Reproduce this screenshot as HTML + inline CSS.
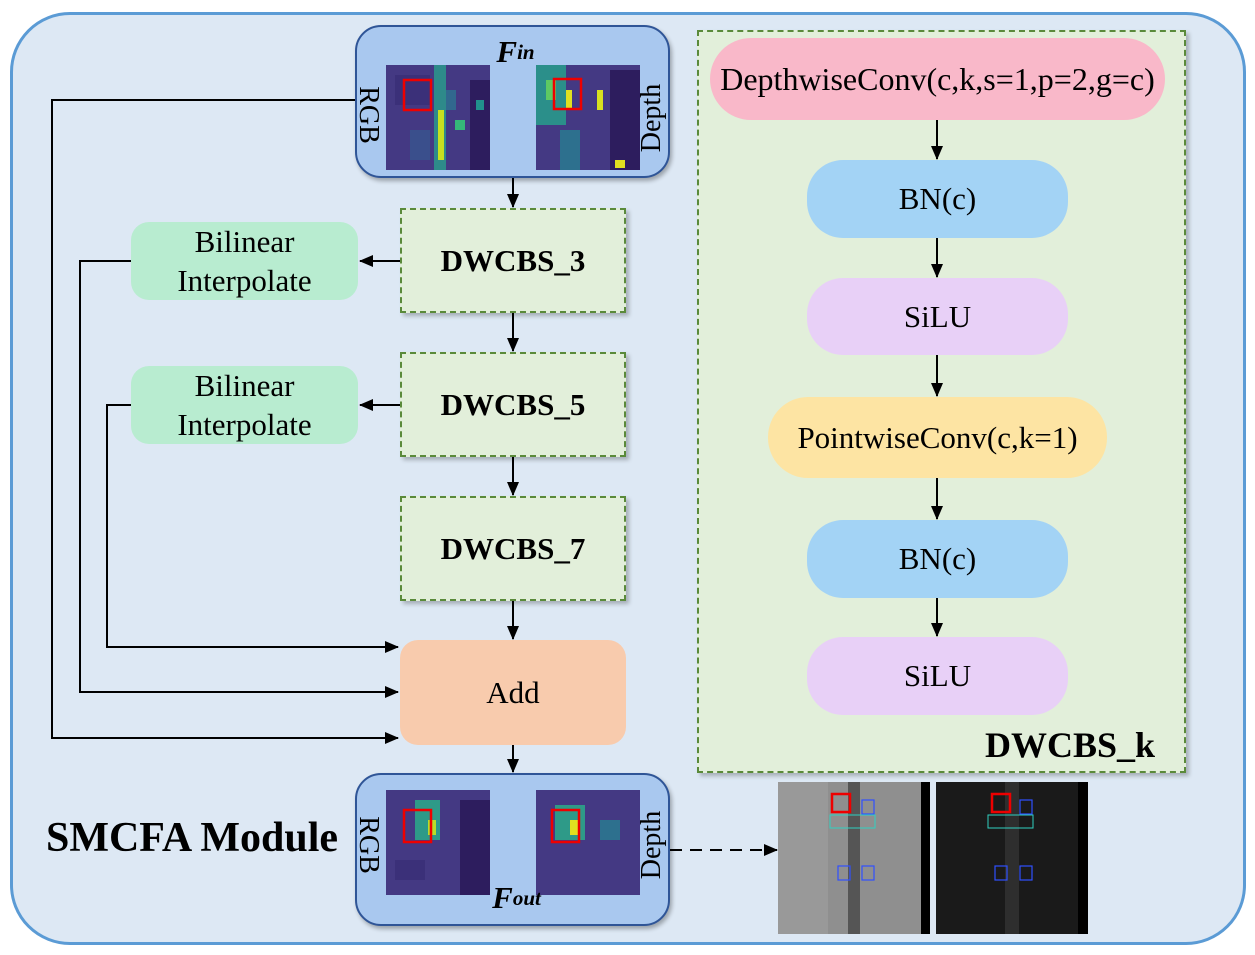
<!DOCTYPE html>
<html><head><meta charset="utf-8"><style>
body{margin:0;width:1255px;height:955px;background:#fff;font-family:"Liberation Serif",serif;position:relative;overflow:hidden}
.a{position:absolute;box-sizing:border-box;display:flex;align-items:center;justify-content:center;text-align:center;white-space:nowrap}
.dw{background:#e2efda;border:2px dashed #5a8a3a;font-weight:bold;font-size:31px;box-shadow:3px 3px 4px rgba(0,0,0,.25)}
.bi{background:#b8ecd0;border-radius:18px;font-size:31px;line-height:39px}
.r{border-radius:36px;font-size:31px}
sub{vertical-align:-8px}
</style></head><body>
<div class="a" style="left:10px;top:12px;width:1236px;height:933px;background:#dde8f4;border:3px solid #5b9bd5;border-radius:60px"></div>
<div class="a" style="left:697px;top:30px;width:489px;height:743px;background:#e2efda;border:2px dashed #5a8a3a;box-shadow:3px 3px 4px rgba(0,0,0,.25)"></div>

<svg class="a" style="left:0;top:0" width="1255" height="955">
<defs><marker id="m" markerWidth="14" markerHeight="12" refX="13" refY="6" orient="auto" markerUnits="userSpaceOnUse"><path d="M0,0 L14,6 L0,12z" fill="#000"/></marker></defs>
<g stroke="#000" stroke-width="2" fill="none">
<polyline points="355,100 52,100 52,738 398,738" marker-end="url(#m)"/>
<polyline points="131,261 80,261 80,692 398,692" marker-end="url(#m)"/>
<polyline points="131,405 107,405 107,647 398,647" marker-end="url(#m)"/>
<line x1="400" y1="261" x2="360" y2="261" marker-end="url(#m)"/>
<line x1="400" y1="405" x2="360" y2="405" marker-end="url(#m)"/>
<line x1="513" y1="178" x2="513" y2="207" marker-end="url(#m)"/>
<line x1="513" y1="313" x2="513" y2="351" marker-end="url(#m)"/>
<line x1="513" y1="457" x2="513" y2="495" marker-end="url(#m)"/>
<line x1="513" y1="601" x2="513" y2="639" marker-end="url(#m)"/>
<line x1="513" y1="745" x2="513" y2="772" marker-end="url(#m)"/>
<line x1="937" y1="120" x2="937" y2="159" marker-end="url(#m)"/>
<line x1="937" y1="238" x2="937" y2="277" marker-end="url(#m)"/>
<line x1="937" y1="355" x2="937" y2="396" marker-end="url(#m)"/>
<line x1="937" y1="478" x2="937" y2="519" marker-end="url(#m)"/>
<line x1="937" y1="598" x2="937" y2="636" marker-end="url(#m)"/>
<line x1="670" y1="850" x2="777" y2="850" stroke-dasharray="12,8" marker-end="url(#m)"/>
</g></svg>

<div class="a" style="left:355px;top:25px;width:315px;height:153px;background:#a9c8ef;border:2px solid #2f5597;border-radius:26px;box-shadow:2px 3px 4px rgba(0,0,0,.3)"></div>
<div class="a" style="left:355px;top:773px;width:315px;height:153px;background:#a9c8ef;border:2px solid #2f5597;border-radius:26px;box-shadow:2px 3px 4px rgba(0,0,0,.3)"></div>

<svg class="a" style="left:0;top:0" width="1255" height="955">
<rect x="386" y="65" width="104" height="105" fill="#443983"/>
<rect x="395" y="75" width="35" height="30" fill="#3b3079"/>
<rect x="410" y="130" width="20" height="30" fill="#3a4f8c"/>
<rect x="434" y="65" width="12" height="105" fill="#2e8a8a"/>
<rect x="438" y="110" width="6" height="50" fill="#c8e020"/>
<rect x="446" y="90" width="10" height="20" fill="#31688e"/>
<rect x="470" y="80" width="20" height="90" fill="#2d1d5e"/>
<rect x="455" y="120" width="10" height="10" fill="#35b779"/>
<rect x="476" y="100" width="8" height="10" fill="#21918c"/>
<rect x="536" y="65" width="104" height="105" fill="#443983"/>
<rect x="536" y="65" width="30" height="60" fill="#2b8f8a"/>
<rect x="546" y="80" width="10" height="20" fill="#5ec962"/>
<rect x="566" y="90" width="6" height="20" fill="#e0e020"/>
<rect x="597" y="90" width="6" height="20" fill="#d8e020"/>
<rect x="560" y="130" width="20" height="40" fill="#2d708e"/>
<rect x="610" y="70" width="30" height="100" fill="#2d1d5e"/>
<rect x="615" y="160" width="10" height="8" fill="#e0e020"/>
<rect x="404" y="80" width="27" height="30" fill="none" stroke="#e00" stroke-width="2.5"/>
<rect x="554" y="79" width="27" height="30" fill="none" stroke="#e00" stroke-width="2.5"/>
<rect x="386" y="790" width="104" height="105" fill="#443983"/>
<rect x="395" y="860" width="30" height="20" fill="#3b3079"/>
<rect x="415" y="800" width="25" height="40" fill="#2e9a88"/>
<rect x="428" y="820" width="8" height="15" fill="#b8de29"/>
<rect x="460" y="800" width="30" height="95" fill="#2d1d5e"/>
<rect x="536" y="790" width="104" height="105" fill="#443983"/>
<rect x="555" y="805" width="30" height="35" fill="#2e9a88"/>
<rect x="570" y="820" width="8" height="15" fill="#e0e020"/>
<rect x="600" y="820" width="20" height="20" fill="#2d708e"/>
<rect x="404" y="810" width="27" height="32" fill="none" stroke="#e00" stroke-width="2.5"/>
<rect x="552" y="810" width="27" height="32" fill="none" stroke="#e00" stroke-width="2.5"/>
<rect x="778" y="782" width="152" height="152" fill="#8f8f8f"/>
<rect x="778" y="782" width="50" height="152" fill="#999"/>
<rect x="848" y="782" width="12" height="152" fill="#555"/>
<rect x="921" y="782" width="9" height="152" fill="#000"/>
<rect x="936" y="782" width="152" height="152" fill="#1a1a1a"/>
<rect x="1005" y="782" width="14" height="152" fill="#2e2e2e"/>
<rect x="1078" y="782" width="10" height="152" fill="#000"/>
<rect x="832" y="794" width="18" height="18" fill="none" stroke="#e00" stroke-width="2.5"/>
<rect x="992" y="794" width="18" height="18" fill="none" stroke="#e00" stroke-width="2.5"/>
<g fill="none" stroke="#3050ff" stroke-width="1.2"><rect x="862" y="800" width="12" height="14"/><rect x="838" y="866" width="12" height="14"/><rect x="862" y="866" width="12" height="14"/><rect x="1020" y="800" width="12" height="14"/><rect x="995" y="866" width="12" height="14"/><rect x="1020" y="866" width="12" height="14"/></g>
<g fill="none" stroke="#30d0c0" stroke-width="1"><rect x="830" y="815" width="45" height="13"/><rect x="988" y="815" width="45" height="13"/></g>
</svg>

<div class="a" style="left:488px;top:32px;width:55px;height:40px;font-size:31px;font-weight:bold;font-style:italic">F<sub style="font-size:21px">in</sub></div>
<div class="a" style="left:484px;top:878px;width:65px;height:40px;font-size:31px;font-weight:bold;font-style:italic">F<sub style="font-size:21px">out</sub></div>
<div class="a" style="left:338px;top:100px;width:60px;height:30px;font-size:28px;transform:rotate(90deg)">RGB</div>
<div class="a" style="left:338px;top:830px;width:60px;height:30px;font-size:28px;transform:rotate(90deg)">RGB</div>
<div class="a" style="left:612px;top:103px;width:80px;height:30px;font-size:28px;transform:rotate(-90deg)">Depth</div>
<div class="a" style="left:612px;top:830px;width:80px;height:30px;font-size:28px;transform:rotate(-90deg)">Depth</div>

<div class="a dw" style="left:400px;top:208px;width:226px;height:105px">DWCBS_3</div>
<div class="a dw" style="left:400px;top:352px;width:226px;height:105px">DWCBS_5</div>
<div class="a dw" style="left:400px;top:496px;width:226px;height:105px">DWCBS_7</div>
<div class="a bi" style="left:131px;top:222px;width:227px;height:78px">Bilinear<br>Interpolate</div>
<div class="a bi" style="left:131px;top:366px;width:227px;height:78px">Bilinear<br>Interpolate</div>
<div class="a" style="left:400px;top:640px;width:226px;height:105px;background:#f8cbad;border-radius:18px;font-size:31px">Add</div>

<div class="a r" style="left:710px;top:38px;width:455px;height:82px;background:#f9b8c9;border-radius:42px;font-size:32px">DepthwiseConv(c,k,s=1,p=2,g=c)</div>
<div class="a r" style="left:807px;top:160px;width:261px;height:78px;background:#a3d3f5">BN(c)</div>
<div class="a r" style="left:807px;top:278px;width:261px;height:77px;background:#e8d0f7">SiLU</div>
<div class="a r" style="left:768px;top:397px;width:339px;height:81px;background:#fde4a3;border-radius:40px">PointwiseConv(c,k=1)</div>
<div class="a r" style="left:807px;top:520px;width:261px;height:78px;background:#a3d3f5">BN(c)</div>
<div class="a r" style="left:807px;top:637px;width:261px;height:78px;background:#e8d0f7">SiLU</div>
<div class="a" style="left:968px;top:724px;width:204px;height:42px;font-size:36px;font-weight:bold">DWCBS_k</div>
<div class="a" style="left:38px;top:814px;width:308px;height:48px;font-size:42px;font-weight:bold">SMCFA Module</div>
</body></html>
